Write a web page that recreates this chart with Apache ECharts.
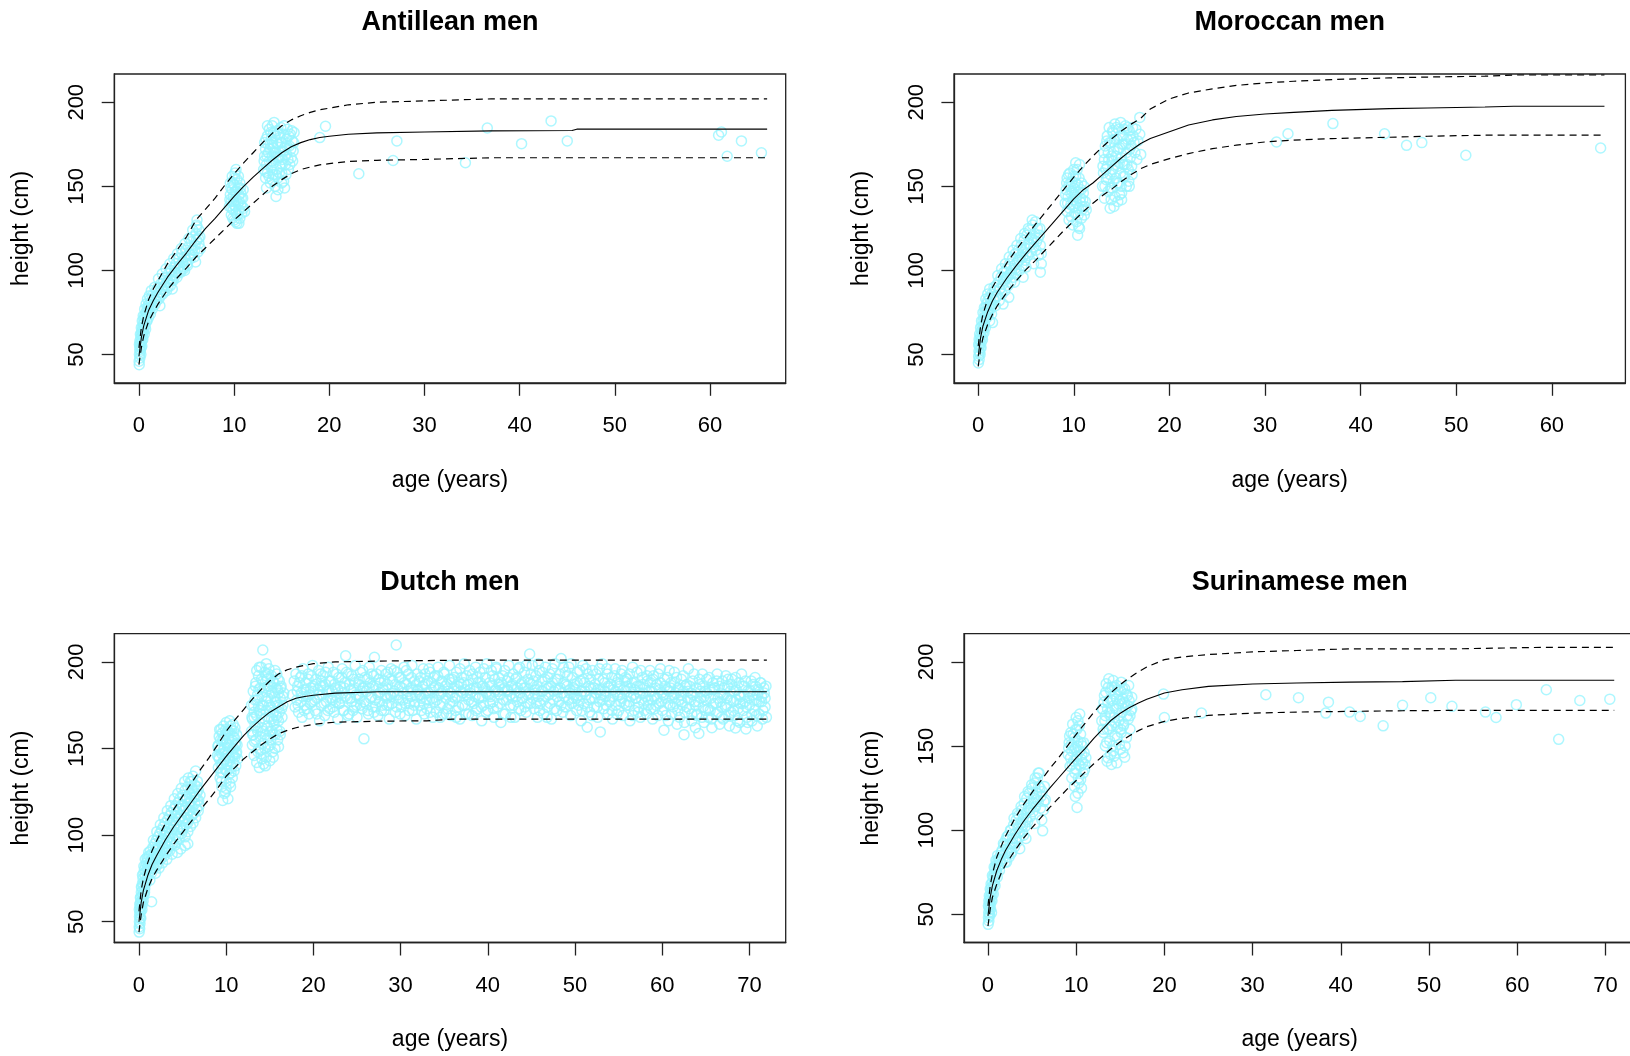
<!DOCTYPE html>
<html><head><meta charset="utf-8">
<script src="https://cdn.jsdelivr.net/npm/echarts@6/dist/echarts.min.js"></script>
<style>html,body{margin:0;padding:0;background:#fff}#c{width:1630px;height:1056px}</style>
</head><body><div id="c"></div>
<script>
// ---------- tick labels ----------
const xTicks60 = [0,10,20,30,40,50,60];
const xTicks70 = [0,10,20,30,40,50,60,70];
const yTicks = [50,100,150,200];
const titles = ['Antillean men','Moroccan men','Dutch men','Surinamese men'];

// ---------- reference curves ----------
const antAges = [0,0.25,0.5,1,1.5,2,3,4,5,6,7,8,9,10,11,12,13,14,15,16,17,18,19,20,22,25,30,37,45.5,46,66];
const antMed  = [49,60,67,76,82,87,96,103.5,110.5,118,125,131,137.5,144,150,155.5,160.5,165.5,170,173.5,176,177.8,179,179.8,181,181.8,182.3,183,183.2,184,184];
const antLow  = [44,54,61,69.5,75,80,88.5,95.5,101.5,108,113.5,119,124.5,130,135,140,145,150,154,157.5,160,161.5,162.8,163.5,164.8,165.5,166,167,167,167,167];
const antUp   = [54,66,73,82.5,89,94,104,112,120,130,136.5,143,150.5,157.5,164,170,176,181.5,186,189.5,192,194,195.5,196.5,198.5,200,200.8,202,202,202,202];

const morAges = [0,0.25,0.5,1,1.5,2,3,4,5,6,7,8,9,10,11,12,13,14,15,16,17,18,20,22,24.5,27,30,33,37,43,47,53,56,65.5];
const morMed  = [49,60,67,75.5,82,87,95.5,103,110,116.5,123,129.5,136,142.5,148,152,157,162,167,171.5,175.5,178.5,182.5,186.5,189.5,191.5,193,194,195.2,196.2,196.6,197.2,197.6,197.6];
const morLow  = [43,53,60,68,74,79,87,94,100.5,106,112,118,124,129.5,135,140,144.5,148.5,153,157,160.5,163,166.5,169.5,172.4,174.5,176.4,177.5,178.4,179.2,179.8,180.4,180.4,180.4];
const morUp   = [55,67,74,83,90,95,104.5,112.5,120,127.5,134.5,141.5,148.5,155.5,162,168,173.5,178.5,183,187,190.5,196,202,205.5,208,210,211.5,212.5,213.5,214.5,215,215.5,216.2,216.2];

const dutAges = [0,0.25,0.5,1,1.5,2,3,4,5,6,7,8,9,10,11,12,13,14,15,16,17,18,19,20,22.5,27.5,33,36,72];
const dutMed  = [50,61,68,76.5,83,88,97,105,112,119,126,132.5,139,145.5,151.5,157.5,162.5,167,171,174,177,179,180,180.8,182,182.8,182.8,182.8,182.8];
const dutLow  = [44,54,61,69,75,79.5,87.5,95,101.5,108,114.5,120.5,127,134,139,144,148,152,155.5,158.5,160.5,162,163,164,165.2,165.8,166,167,167];
const dutUp   = [56,68,75,84,91,96.5,106.5,115,122.5,130,137.5,144.5,152,160,166.5,172.5,178.5,184,189,193,195.5,197,198,199,200,200.5,200.8,201,201];

const surAges = [0,0.25,0.5,1,1.5,2,3,4,5,6,7,8,9,10,11,12,13,14,15,16,17,18,20,22,25,30,35,41,47,53,63,71];
const surMed  = [49,60,67,76,82.5,88,97,105,112,118.5,125,131,137,143,148.5,154.5,160,165.5,169.5,172.8,175.5,177.8,181.5,183.5,185.5,186.9,187.5,188,188.3,189.1,189.1,189.1];
const surLow  = [43,53,60,68,74.5,79.5,87.5,95,101.5,107.5,113.5,119,124.5,129.5,134.5,139.5,144,148.5,152.5,156,159,161.5,164.7,166.5,168.2,169.6,170.2,170.6,171,171.2,171.2,171.2];
const surUp   = [55,67,74,84,90.5,96.5,106.5,115,122.5,129.5,136.5,143,150,157,163.5,170,176,182,186.5,190.5,194,197,201.4,203,204.4,206,206.8,207.8,207.8,207.8,208.7,208.7];

// ---------- observed points [age, height] ----------
const antilleanPts = [
[0.02,46],[0.03,44],[0.05,50],[0.08,53],[0.1,48],[0.12,55],[0.15,52],[0.18,57],[0.2,60],[0.22,54],[0.25,62],[0.28,58],[0.3,64],[0.35,61],[0.38,66],[0.4,63],[0.45,68],[0.5,65],[0.5,71],[0.55,69],[0.6,73],[0.65,67],[0.7,72],[0.75,75],[0.8,70],[0.85,77],[0.9,74],[0.95,79],[1.0,72],[1.05,80],[1.1,76],[1.2,83],[1.25,78],[1.3,81],[1.4,85],[1.45,79],
[1.6,84],[1.7,80],[1.8,88],[1.9,85],[2.0,90],[2.1,83],[2.2,87],[2.3,92],[2.4,89],[2.5,86],[2.6,94],[2.7,91],[2.8,96],[2.9,88],[3.0,93],[3.1,98],[3.2,95],[3.3,91],[3.4,100],[3.5,97],[3.6,94],[3.7,102],[3.8,99],[3.9,104],[4.0,96],[4.1,101],[4.2,107],[4.3,103],[4.4,99],[4.5,110],[4.6,105],[4.7,101],[4.8,108],[4.9,112],[5.0,106],[5.1,103],[5.2,114],[5.3,110],[5.4,107],[5.5,117],[5.6,112],[5.7,120],[5.8,108],[5.9,115],[6.0,122],[6.05,118],[6.1,126],[6.2,111],[6.3,124],[6.4,120],[6.1,130],[6.3,116],[2.2,79],[3.5,89],[4.8,100],
[9.5,138],[9.6,145],[9.6,152],[9.7,133],[9.7,141],[9.8,148],[9.8,156],[9.9,136],[9.9,144],[10.0,130],[10.0,139],[10.0,151],[10.1,147],[10.1,158],[10.2,134],[10.2,142],[10.3,154],[10.3,128],[10.4,140],[10.4,149],[10.5,136],[10.5,145],[10.6,131],[10.6,152],[10.7,139],[10.7,146],[10.8,134],[10.9,143],[11.0,137],[11.1,135],[10.2,160],[10.5,128],
[13.1,160],[13.2,168],[13.2,176],[13.3,155],[13.3,172],[13.4,163],[13.5,180],[13.5,158],[13.6,170],[13.7,165],[13.7,184],[13.8,152],[13.8,175],[13.9,161],[13.9,178],[14.0,168],[14.0,186],[14.1,157],[14.1,173],[14.2,188],[14.2,164],[14.3,150],[14.3,180],[14.4,144],[14.4,170],[14.5,160],[14.5,183],[14.6,175],[14.6,155],[14.7,167],[14.8,179],[14.8,162],[14.9,185],[14.9,171],[15.0,158],[15.0,176],[15.1,166],[15.2,181],[15.2,153],[15.3,173],[15.4,163],[15.5,178],[15.5,169],[15.6,184],[15.7,160],[15.8,174],[15.9,181],[16.0,167],[16.1,177],[16.2,171],[13.4,149],[15.3,149],[14.6,148],[16.3,182],
[19.0,179],[19.6,185.7],[23.1,157.5],[26.7,165.4],[27.1,177],[34.3,164],[36.6,184.7],[40.2,175.4],[43.3,188.9],[45,177],[60.9,180.4],[61.2,182.3],[61.8,167.9],[63.3,177],[65.4,170]
];
const antilleanPts2 = [
[0.05,56],[0.1,58],[0.15,62],[0.2,50],[0.25,66],[0.3,55],[0.35,70],[0.4,59],[0.45,73],[0.55,62],[0.6,77],[0.7,65],[0.75,80],[0.85,70],[0.9,83],[1.0,78],[1.1,85],[1.2,74],[1.3,88],[1.4,77],
[1.65,90],[1.85,82],[2.05,95],[2.25,85],[2.45,98],[2.65,88],[2.85,101],[3.05,90],[3.25,104],[3.45,94],[3.65,107],[3.85,97],[4.05,110],[4.25,99],[4.45,113],[4.65,102],[4.85,116],[5.05,104],[5.25,119],[5.45,109],[5.65,124],[5.85,112],[6.05,127],[6.25,119],[6.45,113],[5.95,105],
[9.55,142],[9.65,149],[9.75,137],[9.85,152],[9.95,141],[10.05,155],[10.15,138],[10.25,147],[10.35,133],[10.45,156],[10.55,141],[10.65,149],[10.75,143],[10.85,138],[10.95,148],[10.15,129],[9.85,131],
[13.15,165],[13.25,159],[13.35,178],[13.45,168],[13.55,175],[13.65,156],[13.75,172],[13.85,182],[13.95,165],[14.05,176],[14.15,182],[14.25,170],[14.35,157],[14.45,176],[14.55,167],[14.65,181],[14.75,158],[14.85,168],[14.95,176],[15.05,163],[15.15,171],[15.25,186],[15.35,168],[15.45,157],[15.55,174],[15.65,166],[15.75,180],[15.85,163],[15.95,172],[16.05,183],[16.15,165],[16.25,176],[13.5,186],[14.0,154],[15.0,152]
];

const moroccanPts = [
[0.02,45],[0.05,49],[0.08,52],[0.1,47],[0.12,55],[0.15,51],[0.2,58],[0.22,54],[0.25,61],[0.3,57],[0.32,64],[0.38,60],[0.4,67],[0.45,63],[0.5,70],[0.55,66],[0.6,72],[0.65,68],[0.7,75],[0.75,71],[0.8,78],[0.85,73],[0.9,80],[0.95,76],[1.0,82],[1.05,74],[1.1,79],[1.2,84],[1.25,77],[1.3,81],[1.4,86],[1.5,69],[1.45,80],
[1.6,83],[1.7,88],[1.8,79],[1.9,91],[2.0,85],[2.1,93],[2.2,82],[2.3,89],[2.4,96],[2.5,86],[2.6,92],[2.7,99],[2.8,88],[2.9,95],[3.0,101],[3.1,91],[3.2,97],[3.3,104],[3.4,93],[3.5,100],[3.6,107],[3.7,96],[3.8,103],[3.9,110],[4.0,98],[4.1,105],[4.2,112],[4.3,100],[4.4,108],[4.5,115],[4.6,103],[4.7,111],[4.8,118],[4.9,106],[5.0,113],[5.1,121],[5.2,109],[5.3,116],[5.4,124],[5.5,111],[5.6,119],[5.7,127],[5.8,114],[5.9,122],[6.0,129],[6.1,117],[6.2,125],[6.3,109],[6.4,121],[6.5,115],[6.6,104],[6.5,99],[3.2,84],[4.7,96],[5.8,104],[2.6,80],
[9.1,140],[9.2,148],[9.3,155],[9.3,135],[9.4,144],[9.5,151],[9.5,130],[9.6,158],[9.7,139],[9.7,146],[9.8,153],[9.9,127],[9.9,142],[10.0,149],[10.0,160],[10.1,134],[10.1,145],[10.2,156],[10.3,129],[10.3,140],[10.4,151],[10.4,121],[10.5,137],[10.5,147],[10.6,163],[10.6,125],[10.7,143],[10.8,131],[10.8,152],[10.9,138],[11.0,146],[11.1,133],[11.2,141],[11.3,136],[10.2,164],
[13.0,150],[13.1,158],[13.2,166],[13.2,143],[13.3,174],[13.4,154],[13.5,180],[13.5,162],[13.6,147],[13.6,170],[13.7,185],[13.8,157],[13.8,137],[13.9,176],[14.0,165],[14.0,149],[14.1,182],[14.1,160],[14.2,171],[14.3,144],[14.3,187],[14.4,155],[14.4,168],[14.5,178],[14.6,162],[14.6,141],[14.7,184],[14.7,152],[14.8,173],[14.9,158],[14.9,188],[15.0,167],[15.0,146],[15.1,180],[15.2,156],[15.2,175],[15.3,163],[15.4,186],[15.5,150],[15.5,170],[15.6,178],[15.7,160],[15.8,183],[15.9,167],[16.0,174],[16.1,157],[16.2,180],[16.4,170],[16.5,184],[16.7,177],[16.9,191],[17.0,169],[16.9,181],[14.2,138],[15.0,142],[15.8,150],
[31.2,176.4],[32.4,181.3],[37.1,187.3],[42.5,181.3],[44.8,174.4],[46.4,176],[51,168.5],[65.1,172.8]
];
const moroccanPts2 = [
[0.05,56],[0.1,59],[0.15,62],[0.2,50],[0.25,66],[0.3,54],[0.35,70],[0.45,59],[0.5,75],[0.6,63],[0.65,78],[0.75,66],[0.8,83],[0.9,72],[1.0,86],[1.1,75],[1.2,89],[1.3,78],[1.4,74],[1.2,70],
[1.65,90],[1.85,84],[2.05,97],[2.25,89],[2.45,101],[2.65,94],[2.85,104],[3.05,96],[3.25,108],[3.45,98],[3.65,112],[3.85,101],[4.05,115],[4.25,106],[4.45,119],[4.65,108],[4.85,122],[5.05,110],[5.25,125],[5.45,115],[5.65,130],[5.85,118],[6.05,112],[6.25,119],[6.45,125],[6.6,110],[5.0,102],[3.8,93],
[9.15,145],[9.25,152],[9.35,140],[9.45,157],[9.55,137],[9.65,150],[9.75,132],[9.85,147],[9.95,156],[10.05,138],[10.15,152],[10.25,144],[10.35,160],[10.45,133],[10.55,155],[10.65,141],[10.75,148],[10.85,136],[10.95,142],[11.05,150],[11.15,138],[10.5,126],
[13.05,162],[13.15,170],[13.25,150],[13.35,160],[13.45,177],[13.55,155],[13.65,166],[13.75,176],[13.85,149],[13.95,168],[14.05,183],[14.15,153],[14.25,178],[14.35,163],[14.45,185],[14.55,152],[14.65,172],[14.75,164],[14.85,180],[14.95,150],[15.05,175],[15.15,163],[15.25,184],[15.35,156],[15.45,175],[15.55,163],[15.65,185],[15.75,153],[15.85,172],[15.95,178],[16.05,162],[16.15,185],[16.3,176],[16.6,166],[13.9,142],[14.8,145]
];

const dutchChildPts = [
[0.02,44],[0.03,47],[0.05,50],[0.06,53],[0.08,46],[0.1,55],[0.12,49],[0.14,58],[0.15,52],[0.18,61],[0.2,56],[0.22,64],[0.25,59],[0.27,67],[0.3,62],[0.33,70],[0.35,65],[0.38,60],[0.4,72],[0.43,68],[0.46,75],[0.5,66],[0.52,71],[0.55,78],[0.6,73],[0.62,80],[0.66,69],[0.7,76],[0.74,82],[0.78,72],[0.8,79],[0.85,84],[0.9,75],[0.95,81],[1.0,86],[1.05,77],[1.1,83],[1.15,88],[1.2,79],[1.3,85],[1.45,61.5],[1.4,81],[1.45,89],[1.5,84],
[1.6,86],[1.6,93],[1.7,81],[1.7,89],[1.8,95],[1.8,84],[1.9,91],[1.9,78],[2.0,87],[2.0,97],[2.1,83],[2.1,92],[2.2,99],[2.2,88],[2.3,94],[2.3,81],[2.4,90],[2.4,101],[2.5,86],[2.5,96],[2.6,103],[2.6,91],[2.7,84],[2.7,98],[2.8,93],[2.8,105],[2.9,88],[2.9,100],[3.0,95],[3.0,107],[3.1,90],[3.1,102],[3.2,97],[3.2,86],[3.3,109],[3.3,93],[3.4,104],[3.4,99],[3.5,111],[3.5,91],[3.6,101],[3.6,107],[3.7,96],[3.7,113],[3.8,103],[3.8,89],[3.9,109],[3.9,98],[4.0,115],[4.0,105],[4.1,94],[4.1,111],[4.2,100],[4.2,117],[4.3,107],[4.3,96],[4.4,113],[4.4,103],[4.5,119],[4.5,109],[4.6,98],[4.6,115],[4.7,105],[4.7,121],[4.8,111],[4.8,92],[4.9,117],[4.9,101],[5.0,108],[5.0,123],[5.1,114],[5.1,104],[5.2,120],[5.2,110],[5.3,126],[5.3,99],[5.4,116],[5.4,106],[5.5,122],[5.5,112],[5.6,128],[5.6,102],[5.7,118],[5.7,109],[5.8,124],[5.8,114],[5.9,131],[5.9,105],[6.0,120],[6.0,111],[6.1,127],[6.1,116],[6.2,134],[6.2,107],[6.3,122],[6.3,113],[6.4,129],[6.4,118],[6.5,137],[6.5,110],[6.6,124],[6.6,115],[6.7,131],[6.7,120],[6.8,126],[6.9,117],[7.0,123],[5.3,94],[5.6,95],[4.4,90],
[9.0,146],[9.1,152],[9.1,139],[9.2,157],[9.2,144],[9.3,133],[9.3,150],[9.4,161],[9.4,141],[9.5,147],[9.5,128],[9.6,155],[9.6,136],[9.7,163],[9.7,143],[9.8,150],[9.8,124],[9.9,158],[9.9,138],[10.0,146],[10.0,165],[10.0,131],[10.1,153],[10.1,141],[10.2,160],[10.2,121],[10.2,148],[10.3,135],[10.3,156],[10.4,143],[10.4,166],[10.5,128],[10.5,151],[10.6,139],[10.6,161],[10.7,146],[10.7,133],[10.8,157],[10.8,142],[10.9,150],[10.9,137],[11.0,162],[11.0,145],[11.1,153],[11.1,140],[11.2,158],[11.2,148],[11.3,144],[9.6,120],[9.9,125],[10.4,130],[10.8,164],[9.4,136],
[12.9,160],[12.9,175],[13.0,167],[13.0,152],[13.1,183],[13.1,158],[13.2,171],[13.2,146],[13.3,178],[13.3,163],[13.4,188],[13.4,155],[13.5,169],[13.5,142],[13.6,181],[13.6,160],[13.7,192],[13.7,150],[13.7,174],[13.8,165],[13.8,139],[13.9,185],[13.9,157],[14.0,197],[14.0,170],[14.0,147],[14.1,180],[14.1,162],[14.2,206.9],[14.2,189],[14.2,153],[14.3,175],[14.3,141],[14.4,167],[14.4,194],[14.5,158],[14.5,183],[14.6,145],[14.6,172],[14.7,190],[14.7,163],[14.8,151],[14.8,179],[14.9,168],[14.9,196],[15.0,143],[15.0,186],[15.0,160],[15.1,174],[15.1,155],[15.2,192],[15.2,167],[15.3,148],[15.3,182],[15.4,171],[15.4,158],[15.5,188],[15.5,164],[15.6,177],[15.6,150],[15.7,185],[15.7,169],[15.8,161],[15.8,193],[15.9,175],[15.9,155],[16.0,182],[16.0,166],[16.1,189],[16.1,171],[16.2,158],[16.2,179],[16.3,186],[16.4,168],[16.5,175],[16.6,182],[13.8,197],[14.1,144],[14.5,140],[15.4,145],[16.0,151],[13.2,168],[14.8,186],[15.9,184]
];
const dutchChildPts2 = [
[0.04,57],[0.09,60],[0.16,64],[0.21,52],[0.28,70],[0.34,57],[0.4,77],[0.48,62],[0.56,82],[0.64,67],[0.72,86],[0.82,73],[0.92,87],[1.02,80],[1.12,90],[1.22,84],[1.32,91],[1.42,78],[1.25,74],[0.6,66],
[1.65,97],[1.85,88],[2.05,102],[2.25,93],[2.45,106],[2.65,97],[2.85,110],[3.05,101],[3.25,114],[3.45,104],[3.65,117],[3.85,108],[4.05,121],[4.25,111],[4.45,124],[4.65,110],[4.85,127],[5.05,117],[5.25,131],[5.45,121],[5.65,133],[5.85,119],[6.05,131],[6.25,125],[6.45,122],[6.65,128],[6.85,120],[2.0,82],[2.6,87],[3.2,91],[3.8,95],[4.4,99],[5.0,103],[5.6,107],[6.2,112],[6.8,114],
[9.05,151],[9.15,145],[9.25,161],[9.35,155],[9.45,131],[9.55,159],[9.65,149],[9.75,156],[9.85,144],[9.95,161],[10.05,137],[10.15,160],[10.25,152],[10.35,145],[10.45,159],[10.55,136],[10.65,155],[10.75,150],[10.85,146],[10.95,156],[11.05,152],[11.15,147],[11.25,152],[9.55,141],[10.0,127],[10.5,163],[9.2,149],[10.9,160],
[12.95,168],[13.05,158],[13.15,175],[13.25,154],[13.35,186],[13.45,162],[13.55,178],[13.65,148],[13.75,184],[13.85,172],[13.95,149],[14.05,190],[14.15,175],[14.25,160],[14.35,185],[14.45,150],[14.55,192],[14.65,177],[14.75,156],[14.85,193],[14.95,175],[15.05,152],[15.15,183],[15.25,160],[15.35,189],[15.45,166],[15.55,180],[15.65,158],[15.75,177],[15.85,168],[15.95,190],[16.05,174],[16.15,160],[16.25,185],[16.35,173],[16.5,180],[13.5,195],[14.6,199],[15.6,195]
];

const dutchAdultPts = [
[17.6,181],[17.8,189],[17.9,174],[18.0,193],
[18.1,178],[18.2,186],[18.3,171],[18.5,191],[18.6,182],[18.7,168],[18.8,196],[18.9,184],
[19.0,175],[19.1,188],[19.3,180],[19.4,193],[19.5,170],[19.7,185],[19.8,177],[19.9,198],
[20.0,183],[20.2,172],[20.3,190],[20.4,179],[20.6,195],[20.7,166],[20.8,186],[20.9,175],
[21.0,181],[21.1,192],[21.3,169],[21.4,187],[21.5,177],[21.7,197],[21.8,183],[21.9,173],
[22.0,189],[22.2,178],[22.3,194],[22.4,171],[22.5,185],[22.7,180],[22.8,167],[22.9,191],
[23.0,176],[23.1,186],[23.3,196],[23.4,182],[23.5,172],[23.6,188],[23.7,203.5],[23.9,179],
[24.0,193],[24.1,170],[24.3,184],[24.4,177],[24.6,190],[24.7,174],[24.8,198],[24.9,181],
[25.0,168],[25.2,187],[25.3,179],[25.4,194],[25.6,173],[25.8,155.6],[25.7,185],[25.9,191],
[26.0,176],[26.1,183],[26.3,170],[26.4,197],[26.5,188],[26.7,180],[26.8,174],[26.9,192],
[27.0,202.7],[27.1,178],[27.2,186],[27.4,169],[27.5,190],[27.6,182],[27.8,195],[27.9,175],
[28.0,184],[28.1,172],[28.3,193],[28.4,179],[28.5,187],[28.7,167],[28.8,181],[28.9,196],
[29.0,176],[29.1,189],[29.3,183],[29.5,209.8],[29.4,171],[29.6,194],[29.8,178],[29.9,186],
[30.0,191],[30.1,174],[30.3,182],[30.4,197],[30.5,169],[30.7,187],[30.8,179],[30.9,193],
[31.0,176],[31.2,185],[31.3,198],[31.4,172],[31.6,189],[31.7,181],[31.8,167],[31.9,193],
[32.0,184],[32.2,175],[32.3,191],[32.4,179],[32.6,196],[32.7,170],[32.8,187],[32.9,182],
[33.0,173],[33.1,189],[33.3,178],[33.4,194],[33.5,184],[33.7,168],[33.8,191],[33.9,177],
[34.0,186],[34.1,171],[34.3,197],[34.4,181],[34.5,175],[34.7,189],[34.8,183],[34.9,170],
[35.0,193],[35.2,179],[35.3,187],[35.4,173],[35.6,198],[35.7,182],[35.8,169],[35.9,190],
[36.0,177],[36.1,185],[36.3,172],[36.4,194],[36.5,180],[36.7,188],[36.8,167],[36.9,183],
[37.0,191],[37.1,175],[37.3,199],[37.4,184],[37.5,170],[37.7,187],[37.8,178],[37.9,195],
[38.0,182],[38.2,169],[38.3,190],[38.4,176],[38.6,197],[38.7,185],[38.8,173],[38.9,188],
[39.0,179],[39.1,194],[39.3,166],[39.4,186],[39.5,175],[39.7,191],[39.8,182],[39.9,199],
[40.0,172],[40.2,188],[40.3,180],[40.4,195],[40.6,177],[40.7,168],[40.8,190],[40.9,184],
[41.0,196],[41.1,174],[41.3,187],[41.4,181],[41.5,165],[41.7,192],[41.8,178],[41.9,185],
[42.0,170],[42.2,189],[42.3,183],[42.4,198],[42.6,175],[42.7,186],[42.8,179],[42.9,193],
[43.0,184],[43.1,168],[43.3,191],[43.4,177],[43.5,196],[43.7,182],[43.8,172],[43.9,188],
[44.0,179],[44.2,194],[44.3,185],[44.4,171],[44.6,190],[44.8,204.6],[44.7,182],[44.9,176],
[45.0,187],[45.1,198],[45.3,173],[45.4,184],[45.5,192],[45.7,168],[45.8,180],[45.9,195],
[46.0,176],[46.2,189],[46.3,183],[46.4,170],[46.6,197],[46.7,186],[46.8,174],[46.9,191],
[47.0,181],[47.1,193],[47.3,167],[47.4,188],[47.5,178],[47.7,199],[47.8,184],[47.9,172],
[48.0,190],[48.2,177],[48.3,185],[48.4,202],[48.6,171],[48.7,188],[48.8,180],[48.9,194],
[49.0,174],[49.1,186],[49.3,197],[49.4,182],[49.5,169],[49.7,191],[49.8,179],[49.9,187],
[50.0,184],[50.2,172],[50.3,194],[50.4,178],[50.6,189],[50.7,166],[50.8,183],[50.9,198],
[51.0,176],[51.1,188],[51.4,162.3],[51.3,181],[51.5,193],[51.7,171],[51.8,185],[51.9,179],
[52.0,195],[52.2,174],[52.3,187],[52.4,182],[52.6,168],[52.9,159.6],[52.7,190],[52.8,177],
[53.0,184],[53.1,199],[53.3,173],[53.4,188],[53.5,180],[53.7,193],[53.8,170],[53.9,185],
[54.0,178],[54.2,191],[54.3,167],[54.4,184],[54.6,196],[54.7,175],[54.8,188],[54.9,181],
[55.0,172],[55.1,186],[55.3,193],[55.4,179],[55.5,169],[55.7,189],[55.8,183],[55.9,175],
[56.0,190],[56.2,177],[56.3,166],[56.4,185],[56.6,197],[56.7,181],[56.8,172],[56.9,188],
[57.0,179],[57.1,194],[57.3,174],[57.4,186],[57.5,168],[57.7,191],[57.8,182],[57.9,176],
[58.0,185],[58.2,170],[58.3,189],[58.4,178],[58.6,195],[58.7,173],[58.8,183],[58.9,167],
[59.0,192],[59.1,180],[59.3,175],[59.4,187],[59.5,169],[59.7,184],[59.8,196],[59.9,177],
[60.0,172],[60.2,160.6],[60.3,186],[60.4,179],[60.6,191],[60.7,166],[60.8,183],[60.9,175],
[61.0,188],[61.1,170],[61.3,181],[61.4,194],[61.5,176],[61.7,164],[61.8,185],[61.9,178],
[62.0,168],[62.2,190],[62.3,175],[62.5,158],[62.4,183],[62.6,171],[62.8,187],[62.9,179],
[63.0,196],[63.1,173],[63.3,182],[63.4,166],[63.5,189],[63.7,177],[63.8,162],[63.9,185],
[64.0,170],[64.2,158.7],[64.3,187],[64.4,179],[64.6,193],[64.7,174],[64.8,165],[64.9,183],
[65.0,178],[65.1,190],[65.3,168],[65.4,184],[65.5,172],[65.7,162],[65.8,188],[65.9,176],
[66.0,185],[66.2,170],[66.3,193],[66.4,179],[66.6,164],[66.7,182],[66.8,174],[66.9,189],
[67.0,167],[67.1,181],[67.3,192],[67.4,175],[67.5,186],[67.7,163],[67.8,178],[67.9,171],
[68.0,190],[68.2,177],[68.4,161.9],[68.3,169],[68.5,184],[68.7,173],[68.8,188],[68.9,165],
[69.0,180],[69.1,193],[69.3,172],[69.4,186],[69.6,161.3],[69.5,177],[69.7,168],[69.8,183],
[70.0,175],[70.2,189],[70.3,166],[70.4,181],[70.6,172],[70.7,186],[70.8,178],[70.9,163],
[71.0,184],[71.1,170],[71.3,188],[71.4,177],[71.5,167],[71.7,182],[71.8,174],[71.9,186]
];
const dutchAdultPts2 = [
[18.15,183],[18.25,175],[18.4,188],[18.55,177],[18.65,192],[18.8,180],[18.95,172],
[19.15,184],[19.25,173],[19.4,190],[19.55,181],[19.65,176],[19.8,192],[19.95,186],
[20.15,178],[20.25,187],[20.4,170],[20.55,184],[20.65,181],[20.8,193],[20.95,189],
[21.15,186],[21.25,176],[21.4,194],[21.55,183],[21.65,172],[21.8,189],[21.95,179],
[22.15,183],[22.25,174],[22.4,187],[22.55,177],[22.65,193],[22.8,184],[22.95,176],
[23.15,179],[23.25,191],[23.4,172],[23.55,185],[23.65,180],[23.8,194],[23.95,169],
[24.15,187],[24.25,179],[24.4,192],[24.55,172],[24.65,184],[24.8,188],[24.95,175],
[25.15,181],[25.25,190],[25.4,175],[25.55,183],[25.65,195],[25.8,177],[25.95,186],
[26.15,190],[26.25,172],[26.4,185],[26.55,179],[26.65,193],[26.8,186],[26.95,171],
[27.15,174],[27.25,193],[27.4,181],[27.55,177],[27.65,188],[27.8,172],[27.95,185],
[28.15,189],[28.25,181],[28.4,175],[28.55,194],[28.65,175],[28.8,190],[28.95,180],
[29.15,182],[29.25,195],[29.4,187],[29.55,174],[29.65,181],[29.8,191],[29.95,170],
[30.15,185],[30.25,178],[30.4,188],[30.55,176],[30.65,195],[30.8,183],[30.95,172],
[31.15,180],[31.25,191],[31.4,184],[31.55,175],[31.65,177],[31.8,187],[31.95,183],
[32.15,189],[32.25,181],[32.4,172],[32.55,186],[32.65,176],[32.8,193],[32.95,178],
[33.15,182],[33.25,196],[33.4,171],[33.55,188],[33.65,179],[33.8,185],[33.95,192],
[34.15,178],[34.25,192],[34.4,185],[34.55,168],[34.65,182],[34.8,176],[34.95,194],
[35.15,186],[35.25,170],[35.4,183],[35.55,190],[35.65,176],[35.8,188],[35.95,180],
[36.15,191],[36.25,179],[36.4,168],[36.55,186],[36.65,174],[36.8,196],[36.95,187],
[37.15,182],[37.25,188],[37.4,175],[37.55,192],[37.65,181],[37.8,170],[37.95,184],
[38.15,177],[38.25,193],[38.4,185],[38.55,180],[38.65,172],[38.8,191],[38.95,179],
[39.15,188],[39.25,174],[39.4,180],[39.55,196],[39.65,185],[39.8,171],[39.95,183],
[40.15,181],[40.25,176],[40.4,186],[40.55,192],[40.65,173],[40.8,183],[40.95,197],
[41.15,183],[41.25,191],[41.4,176],[41.55,188],[41.65,184],[41.8,170],[41.95,195],
[42.15,178],[42.25,184],[42.4,191],[42.55,181],[42.65,168],[42.8,187],[42.95,175],
[43.15,190],[43.25,180],[43.4,185],[43.55,173],[43.65,197],[43.8,187],[43.95,179],
[44.15,185],[44.25,174],[44.4,198],[44.55,181],[44.65,176],[44.8,188],[44.95,193],
[45.15,179],[45.25,189],[45.4,182],[45.55,176],[45.65,186],[45.8,199],[45.95,172],
[46.15,183],[46.25,194],[46.4,178],[46.55,190],[46.65,180],[46.8,168],[46.95,185],
[47.15,176],[47.25,186],[47.4,196],[47.55,183],[47.65,173],[47.8,190],[47.95,180],
[48.15,184],[48.25,193],[48.4,175],[48.55,182],[48.65,197],[48.8,174],[48.95,187],
[49.15,192],[49.25,178],[49.4,184],[49.55,199],[49.65,176],[49.8,185],[49.95,181],
[50.15,179],[50.25,188],[50.4,175],[50.55,195],[50.65,181],[50.8,172],[50.95,190],
[51.15,183],[51.25,196],[51.4,174],[51.55,186],[51.65,178],[51.8,190],[51.95,169],
[52.15,185],[52.25,179],[52.4,193],[52.55,174],[52.65,184],[52.8,196],[52.95,181],
[53.15,178],[53.25,190],[53.4,183],[53.55,175],[53.65,196],[53.8,186],[53.95,177],
[54.15,187],[54.25,172],[54.4,180],[54.55,192],[54.65,183],[54.8,170],[54.95,190],
[55.15,181],[55.25,177],[55.4,195],[55.55,184],[55.65,176],[55.8,191],[55.95,186],
[56.15,175],[56.25,193],[56.4,180],[56.55,188],[56.65,169],[56.8,184],[56.95,179],
[57.15,186],[57.25,171],[57.4,182],[57.55,195],[57.65,178],[57.8,187],[57.95,172],
[58.15,180],[58.25,192],[58.4,175],[58.55,183],[58.65,188],[58.8,178],[58.95,190],
[59.15,173],[59.25,185],[59.4,179],[59.55,193],[59.65,176],[59.8,188],[59.95,182],
[60.15,181],[60.25,190],[60.4,169],[60.55,184],[60.65,176],[60.8,195],[60.95,185],
[61.15,179],[61.25,174],[61.4,188],[61.55,182],[61.65,191],[61.8,172],[61.95,184],
[62.15,181],[62.25,177],[62.4,192],[62.55,165],[62.65,186],[62.8,174],[62.95,183],
[63.15,186],[63.25,178],[63.4,170],[63.55,181],[63.65,193],[63.8,175],[63.95,169],
[64.15,177],[64.25,190],[64.4,183],[64.55,168],[64.65,186],[64.8,180],[64.95,172],
[65.15,182],[65.25,173],[65.4,191],[65.55,179],[65.65,167],[65.8,184],[65.95,185],
[66.15,176],[66.25,189],[66.4,171],[66.55,186],[66.65,177],[66.8,168],[66.95,181],
[67.15,185],[67.25,174],[67.4,179],[67.55,190],[67.65,169],[67.8,183],[67.95,187],
[68.15,172],[68.25,183],[68.4,191],[68.55,178],[68.65,166],[68.8,181],[68.95,176],
[69.15,186],[69.25,176],[69.4,181],[69.55,189],[69.65,174],[69.8,165],[69.95,179],
[70.15,183],[70.25,170],[70.4,187],[70.55,178],[70.65,191],[70.8,169],[70.95,181],
[71.15,177],[71.25,188],[71.4,180],[71.55,172],[71.65,185],[71.8,179],[71.95,168]
];

const surinamesePts = [
[0.02,44],[0.05,48],[0.08,51],[0.1,46],[0.12,54],[0.15,50],[0.18,57],[0.2,53],[0.25,60],[0.28,56],[0.32,63],[0.36,59],[0.4,66],[0.45,62],[0.5,69],[0.55,65],[0.6,72],[0.65,68],[0.7,74],[0.75,70],[0.8,77],[0.85,73],[0.9,79],[0.95,75],[1.0,81],[1.05,72],[1.1,78],[1.2,83],
[1.3,76],[1.4,85],[1.5,80],[1.6,88],[1.7,83],[1.8,91],[1.9,86],[2.0,94],[2.1,81],[2.2,89],[2.3,97],[2.4,84],[2.5,92],[2.6,100],[2.7,87],[2.8,95],[2.9,103],[3.0,90],[3.1,98],[3.2,106],[3.3,93],[3.4,101],[3.5,109],[3.6,96],[3.7,104],[3.8,112],[3.9,99],[4.0,107],[4.1,116],[4.2,102],[4.3,110],[4.4,119],[4.5,105],[4.6,113],[4.7,122],[4.8,108],[4.9,116],[5.0,125],[5.1,111],[5.2,119],[5.3,128],[5.4,114],[5.5,122],[5.6,131],[5.7,117],[5.8,134],[5.9,125],[6.0,120],[6.1,106],[6.2,99.6],[6.3,112],[6.4,126],[6.5,118],[5.3,104],[4.3,95],[3.6,89],[5.7,134],
[9.1,145],[9.2,152],[9.3,138],[9.4,158],[9.5,131],[9.5,147],[9.6,163],[9.7,141],[9.8,155],[9.8,126],[9.9,149],[10.0,167],[10.0,136],[10.1,160],[10.1,144],[10.2,122],[10.2,153],[10.3,139],[10.4,169],[10.4,147],[10.5,130],[10.5,157],[10.6,142],[10.7,150],[10.8,134],[10.9,146],[11.0,139],[11.1,143],[10.1,113.5],[10.3,128],
[12.9,165],[13.0,172],[13.1,158],[13.2,180],[13.3,150],[13.3,168],[13.4,187],[13.5,160],[13.6,176],[13.6,143],[13.7,190],[13.8,153],[13.8,170],[13.9,183],[14.0,139],[14.0,162],[14.1,177],[14.2,189],[14.2,147],[14.3,167],[14.4,156],[14.4,181],[14.5,172],[14.6,140],[14.6,186],[14.7,161],[14.8,175],[14.9,151],[14.9,168],[15.0,183],[15.1,158],[15.1,188],[15.2,170],[15.3,146],[15.3,178],[15.4,163],[15.5,184],[15.5,143.4],[15.6,173],[15.7,155],[15.8,180],[15.9,166],[16.0,177],[16.1,160],[16.2,171],[16.3,179],[13.5,141],[14.3,144],
[19.9,180.9],[20,167],[24.2,169.6],[31.5,180.5],[35.2,178.7],[38.3,169.6],[38.6,176.1],[41,170.2],[42.2,167.6],[44.8,162],[47,174.2],[50.2,178.7],[52.6,173.6],[56.4,170.2],[57.6,167],[59.9,174.6],[63.3,183.5],[64.7,154],[67.1,177.1],[70.5,177.9]
];
const surinamesePts2 = [
[0.05,55],[0.1,58],[0.15,61],[0.2,49],[0.25,65],[0.3,53],[0.35,68],[0.45,58],[0.5,73],[0.6,62],[0.7,78],[0.8,67],[0.9,82],[1.0,75],[1.1,85],[1.2,79],[0.4,51],
[1.35,82],[1.55,87],[1.75,92],[1.95,81],[2.15,96],[2.35,88],[2.55,100],[2.75,92],[2.95,107],[3.15,95],[3.35,110],[3.55,99],[3.75,114],[3.95,103],[4.15,120],[4.35,106],[4.55,123],[4.75,112],[4.95,127],[5.15,116],[5.35,131],[5.55,118],[5.75,126],[5.95,113],[6.15,123],[6.35,117],[4.05,97],[2.6,86],
[9.15,149],[9.25,156],[9.35,143],[9.45,151],[9.55,139],[9.65,157],[9.75,148],[9.85,134],[9.95,160],[10.05,142],[10.15,150],[10.25,131],[10.35,162],[10.45,138],[10.55,152],[10.65,145],[10.75,140],[10.85,152],[10.95,136],[10.2,165],[9.9,120],[10.6,125],
[12.95,172],[13.05,160],[13.15,176],[13.25,165],[13.35,182],[13.45,152],[13.55,172],[13.65,185],[13.75,160],[13.85,178],[13.95,168],[14.05,185],[14.15,150],[14.25,174],[14.35,185],[14.45,164],[14.55,178],[14.65,155],[14.75,183],[14.85,165],[14.95,177],[15.05,160],[15.15,175],[15.25,184],[15.35,162],[15.45,176],[15.55,150],[15.65,181],[15.75,168],[15.85,174],[15.95,186],[16.1,168],[16.3,172],[13.9,145],[15.0,148]
];

// ---------- chart assembly ----------
const FONT = "'Liberation Sans', Arial, sans-serif";
const W = 671.4, H = 308.8;
const panels = [
  {pts:[antilleanPts, antilleanPts2], ages:antAges, med:antMed, low:antLow, up:antUp, left:114.3, top:74, xmin:-2.59, xmax:67.95, ymin:33.2, ymax:216.8, xt:xTicks60},
  {pts:[moroccanPts, moroccanPts2], ages:morAges, med:morMed, low:morLow, up:morUp, left:954, top:74, xmin:-2.53, xmax:67.69, ymin:33.2, ymax:216.8, xt:xTicks60},
  {pts:[dutchChildPts, dutchChildPts2, dutchAdultPts, dutchAdultPts2], ages:dutAges, med:dutMed, low:dutLow, up:dutUp, left:114.3, top:633.7, xmin:-2.83, xmax:74.16, ymin:38.0, ymax:216.3, xt:xTicks70},
  {pts:[surinamesePts, surinamesePts2], ages:surAges, med:surMed, low:surLow, up:surUp, left:964, top:633.7, xmin:-2.72, xmax:73.4, ymin:33.2, ymax:216.8, xt:xTicks70}
];
const axisCol = '#222';
const grid = [], xAxis = [], yAxis = [], series = [], title = [];
panels.forEach((p, i) => {
  grid.push({left:p.left, top:p.top, width:W, height:H, show:true, borderColor:axisCol, borderWidth:1.3,
             backgroundColor:'rgba(0,0,0,0)', containLabel:false, outerBoundsMode:'none'});
  xAxis.push({gridIndex:i, type:'value', min:p.xmin, max:p.xmax,
    axisLine:{show:true, onZero:false, lineStyle:{color:axisCol, width:1.3}},
    axisTick:{show:true, length:13, inside:false, customValues:p.xt, lineStyle:{color:axisCol, width:1.3}},
    axisLabel:{show:true, customValues:p.xt, fontSize:22, margin:32, color:'#000', fontFamily:FONT},
    splitLine:{show:false},
    name:'age (years)', nameLocation:'middle', nameGap:86,
    nameTextStyle:{fontSize:23, color:'#000', fontFamily:FONT}});
  yAxis.push({gridIndex:i, type:'value', min:p.ymin, max:p.ymax,
    axisLine:{show:true, onZero:false, lineStyle:{color:axisCol, width:1.3}},
    axisTick:{show:true, length:12.6, inside:false, customValues:yTicks, lineStyle:{color:axisCol, width:1.3}},
    axisLabel:{show:true, customValues:yTicks, rotate:90, fontSize:22, margin:26, color:'#000', fontFamily:FONT},
    splitLine:{show:false},
    name:'height (cm)', nameLocation:'middle', nameGap:81, nameRotate:90,
    nameTextStyle:{fontSize:23, color:'#000', fontFamily:FONT}});
  title.push({text:titles[i], left:p.left + W/2, top:p.top - 64.5, textAlign:'center', padding:0,
    textStyle:{fontSize:27, fontWeight:'bold', color:'#000', fontFamily:FONT}});
  p.pts.forEach(arr => {
    series.push({type:'scatter', xAxisIndex:i, yAxisIndex:i, data:arr, symbol:'circle', symbolSize:10,
      large:false, progressive:0, silent:true, z:2,
      itemStyle:{color:'rgba(0,0,0,0)', borderColor:'#98F5FF', borderWidth:1.5}});
  });
  const mk = (vals) => p.ages.map((a, j) => [a, vals[j]]);
  series.push({type:'line', xAxisIndex:i, yAxisIndex:i, data:mk(p.med), showSymbol:false, symbol:'none', silent:true, z:4,
    lineStyle:{color:'#000', width:1.1}});
  series.push({type:'line', xAxisIndex:i, yAxisIndex:i, data:mk(p.low), showSymbol:false, symbol:'none', silent:true, z:4,
    lineStyle:{color:'#000', width:1.2, type:[7,5]}});
  series.push({type:'line', xAxisIndex:i, yAxisIndex:i, data:mk(p.up), showSymbol:false, symbol:'none', silent:true, z:4,
    lineStyle:{color:'#000', width:1.2, type:[7,5]}});
});

const chart = echarts.init(document.getElementById('c'), null, {renderer:'canvas'});
chart.setOption({animation:false, backgroundColor:'#fff', title, grid, xAxis, yAxis, series});
</script>
</body></html>
